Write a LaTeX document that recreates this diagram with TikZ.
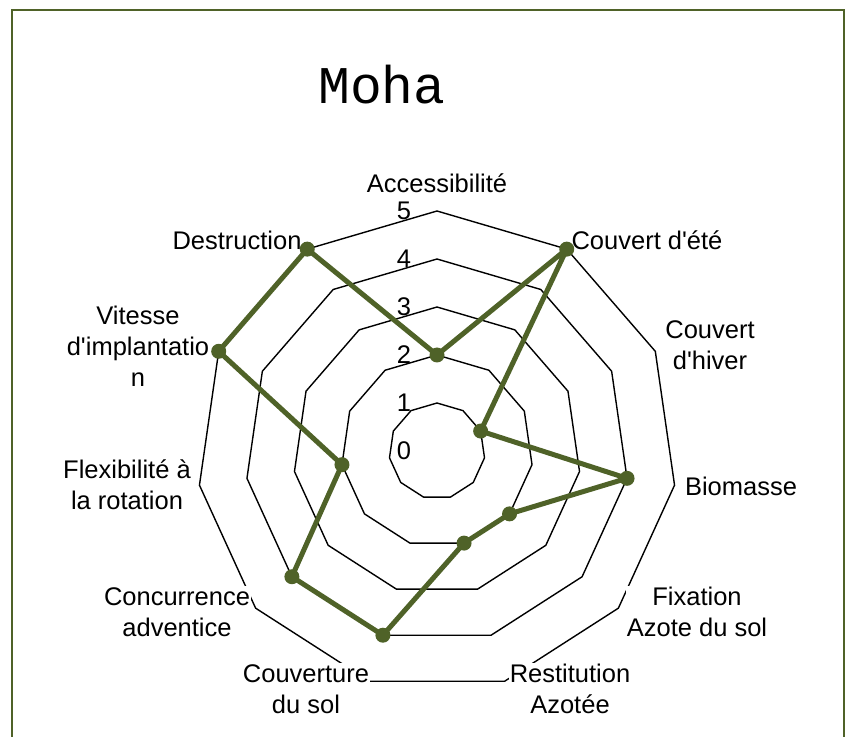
\documentclass[tikz,border=0pt]{standalone}
\usepackage{fontspec}
\setmainfont{Liberation Sans}
\newfontfamily\titlefont{Liberation Mono}
\definecolor{mohagreen}{HTML}{4F6228}

\begin{document}
\begin{tikzpicture}[
  x=1pt, y=1pt,
  font=\fontsize{25.5}{31}\selectfont,
  ring/.style={draw=black, line width=1.4pt, line join=miter},
  tick/.style={inner sep=0pt},
  catlabel/.style={fill=white, inner sep=1pt, align=center},
  serie/.style={draw=mohagreen, line width=5pt, line join=round},
  dot/.style={circle, fill=mohagreen, inner sep=0pt, minimum size=15pt},
  frame/.style={draw=mohagreen, line width=2.5pt},
]

% Page and outer frame
\useasboundingbox (-437,-285) rectangle (411,451);
\clip (-437,-285) rectangle (411,451);
\draw[frame] (-425,441) rectangle (407,-320);

% Title
\node (title) at (-55,366) {\titlefont\fontsize{53}{56}\selectfont Moha};

% Rings
\foreach \k in {1,...,5}
  \draw[ring] (90:{\k*48}) \foreach \i in {1,...,10} { -- ({90-\i*360/11}:{\k*48}) } -- cycle;

% Scale
\foreach \k in {0,...,5}
  \node[tick] (t\k) at (-33,{\k*48}) {\k};

% Axis labels
\node[catlabel] (access) at (0,268) {Accessibilité};
\node[catlabel] (ete) at (210,211) {Couvert d\textquotesingle été};
\node[catlabel] (hiver) at (273,106) {Couvert\\d\textquotesingle hiver};
\node[catlabel] (biomasse) at (304,-35) {Biomasse};
\node[catlabel] (fixation) at (260,-161) {Fixation\\Azote du sol};
\node[catlabel] (restitution) at (133,-238) {Restitution\\Azotée};
\node[catlabel] (couverture) at (-131,-238) {Couverture\\du sol};
\node[catlabel] (concurrence) at (-260,-161) {Concurrence\\adventice};
\node[catlabel] (flex) at (-310,-34) {Flexibilité à\\la rotation};
\node[catlabel] (vitesse) at (-299,105) {Vitesse\\d\textquotesingle implantatio\\n};
\node[catlabel] (destruction) at (-200,211) {Destruction};

% Data
\foreach \v [count=\i from 0] in {2,5,1,4,2,2,4,4,2,5,5}
  \coordinate (p\i) at ({90-\i*360/11}:{\v*48});
\draw[serie] (p0) -- (p1) -- (p2) -- (p3) -- (p4) -- (p5) -- (p6) -- (p7) -- (p8) -- (p9) -- (p10) -- cycle;
\foreach \i in {0,...,10}
  \node[dot] (m\i) at (p\i) {};

\end{tikzpicture}
\end{document}
